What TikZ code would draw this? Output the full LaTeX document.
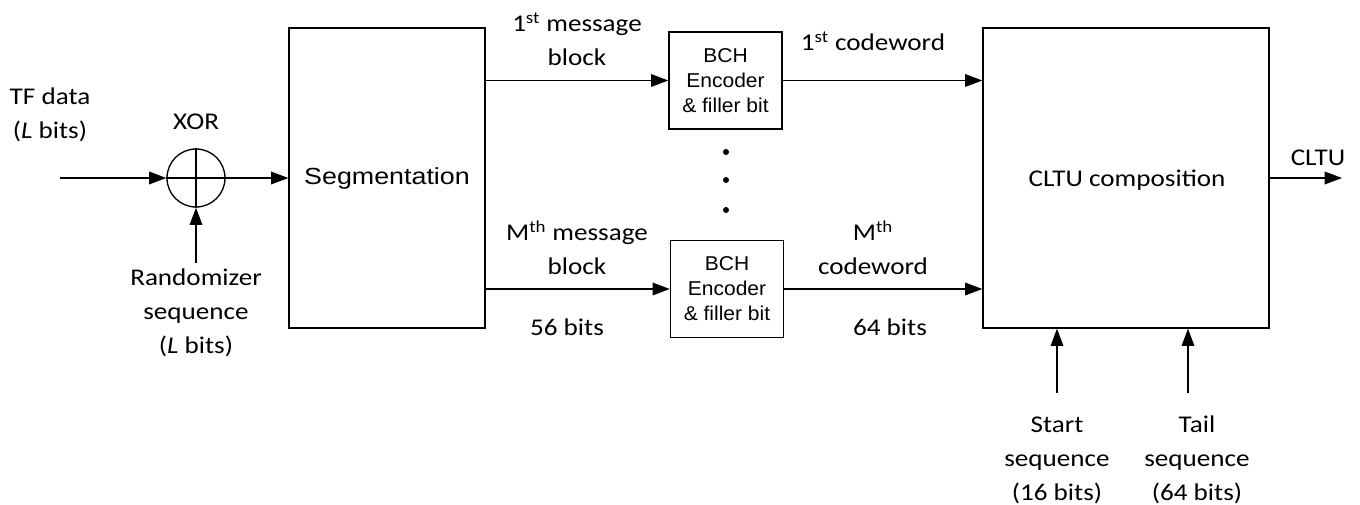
\documentclass[tikz,border=0pt]{standalone}
\usepackage{fontspec}
\setmainfont{Carlito}[FakeStretch=1.13]
\newfontfamily\segfont{Liberation Sans}[FakeStretch=1.15]
\newfontfamily\bchfont{Liberation Sans}[FakeStretch=1.05]
\usetikzlibrary{arrows.meta,calc}
\begin{document}
\begin{tikzpicture}[x=0.75pt,y=-0.75pt,
  line width=1pt,
  >={Triangle[length=13pt,width=9.5pt]},
  lbl/.style={inner sep=0pt, align=center, font=\fontsize{18}{25.5}\selectfont, text height=11.6pt, text depth=0pt},
  box/.style={draw, inner sep=0pt},
  bchbox/.style={box, minimum width=84.75pt, minimum height=72.75pt, align=center, font=\bchfont\fontsize{15}{18.75}\selectfont},
  dotn/.style={circle, fill, inner sep=0pt, minimum size=4.5pt}]
\useasboundingbox (0,0) rectangle (1360,505);

% main blocks
\node[circle, draw, minimum size=43.5pt, inner sep=0pt] (xor) at (196,178) {};
\draw (xor.north) -- (xor.south) (xor.west) -- (xor.east);
\node[box, minimum width=147pt, minimum height=225pt, font=\segfont\fontsize{17.5}{20}\selectfont] (seg) at (387,178) {Segmentation};
\node[bchbox] (b1) at (725.5,80.5) {BCH\\Encoder\\\& filler bit};
\node[bchbox] (b2) at (727,289) {BCH\\Encoder\\\& filler bit};
\node[box, minimum width=214.5pt, minimum height=225pt] (cltu) at (1126,178) {};
\node[lbl] (cltut) at (1127,179) {CLTU composition};

\node[dotn] (d1) at (726,152) {};
\node[dotn] (d2) at (726,180) {};
\node[dotn] (d3) at (726,210) {};

% free ends
\coordinate (in) at (60,178);
\coordinate (rnd) at (196,263);
\coordinate (out) at (1342,178);
\coordinate (st) at (1057,393);
\coordinate (tl) at (1188,393);

% connectors
\draw[->] (in) -- (xor.west);
\draw[->] (rnd) -- (xor.south);
\draw[->] (xor.east) -- (seg.west);
\draw[->] (b1.west -| seg.east) -- (b1.west);
\draw[->] (b2.west -| seg.east) -- (b2.west);
\draw[->] (b1.east) -- (b1.east -| cltu.west);
\draw[->] (b2.east) -- (b2.east -| cltu.west);
\draw[->] (cltu.east) -- (out);
\draw[->] (st) -- (st |- cltu.south);
\draw[->] (tl) -- (tl |- cltu.south);

% labels (multi-line nodes are placed by their last line)
\node[lbl] (tf) at (50,131) {TF data\\(\textit{L} bits)};
\node[lbl] (xorl) at (196,122) {XOR};
\node[lbl] (rndl) at (196,346) {Randomizer\\sequence\\(\textit{L} bits)};
\node[lbl] (m1) at (577,58) {1\textsuperscript{st} message\\block};
\node[lbl] (c1) at (873,43) {1\textsuperscript{st} codeword};
\node[lbl] (mm) at (577,267) {M\textsuperscript{th} message\\block};
\node[lbl] (cm) at (873,267) {M\textsuperscript{th}\\codeword};
\node[lbl] (b56) at (567,328) {56 bits};
\node[lbl] (b64) at (890,328) {64 bits};
\node[lbl] (outl) at (1318,158) {CLTU};
\node[lbl] (stl) at (1057,493) {Start\\sequence\\(16 bits)};
\node[lbl] (tll) at (1197,493) {Tail\\sequence\\(64 bits)};
\end{tikzpicture}
\end{document}
